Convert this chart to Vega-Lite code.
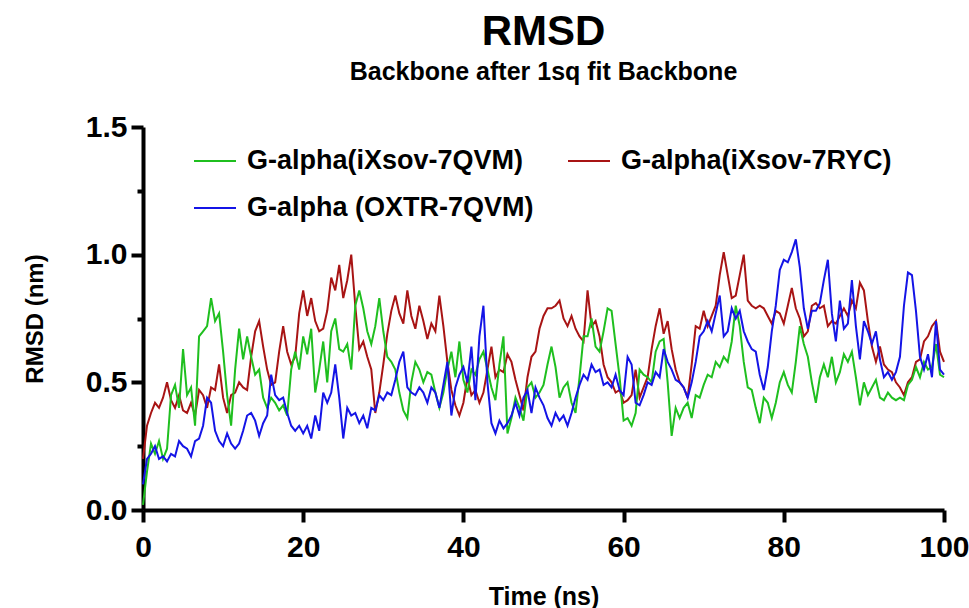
{
  "$schema": "https://vega.github.io/schema/vega-lite/v6.json",
  "width": 801,
  "height": 383,
  "autosize": {"type": "none"},
  "padding": {"left": 143, "top": 127, "right": 25, "bottom": 98},
  "background": "white",
  "config": {"font": "Liberation Sans", "view": {"stroke": null}},
  "title": {
    "text": "RMSD",
    "subtitle": "Backbone after 1sq fit Backbone",
    "fontSize": 42,
    "fontWeight": "bold",
    "color": "black",
    "subtitleFontSize": 25,
    "subtitleFontWeight": "bold",
    "subtitleColor": "black",
    "subtitlePadding": 6,
    "anchor": "middle",
    "frame": "group",
    "offset": 26
  },
  "data": {
    "values": [
      {"t":0,"g":0.02,"r":0.20,"b":0.10},
      {"t":0.5,"g":0.15,"r":0.33,"b":0.20},
      {"t":1,"g":0.26,"r":0.38,"b":0.22},
      {"t":1.5,"g":0.22,"r":0.42,"b":0.25},
      {"t":2,"g":0.27,"r":0.40,"b":0.20},
      {"t":2.5,"g":0.20,"r":0.44,"b":0.21},
      {"t":3,"g":0.24,"r":0.50,"b":0.19},
      {"t":3.5,"g":0.45,"r":0.43,"b":0.22},
      {"t":4,"g":0.49,"r":0.40,"b":0.21},
      {"t":4.5,"g":0.40,"r":0.45,"b":0.27},
      {"t":5,"g":0.63,"r":0.39,"b":0.25},
      {"t":5.5,"g":0.45,"r":0.38,"b":0.24},
      {"t":6,"g":0.48,"r":0.42,"b":0.21},
      {"t":6.5,"g":0.33,"r":0.37,"b":0.27},
      {"t":7,"g":0.68,"r":0.47,"b":0.28},
      {"t":7.5,"g":0.70,"r":0.45,"b":0.33},
      {"t":8,"g":0.72,"r":0.40,"b":0.44},
      {"t":8.5,"g":0.83,"r":0.48,"b":0.42},
      {"t":9,"g":0.74,"r":0.47,"b":0.31},
      {"t":9.5,"g":0.77,"r":0.57,"b":0.27},
      {"t":10,"g":0.62,"r":0.44,"b":0.25},
      {"t":10.5,"g":0.45,"r":0.38,"b":0.30},
      {"t":11,"g":0.33,"r":0.45,"b":0.26},
      {"t":11.5,"g":0.55,"r":0.46,"b":0.24},
      {"t":12,"g":0.71,"r":0.50,"b":0.26},
      {"t":12.5,"g":0.59,"r":0.48,"b":0.31},
      {"t":13,"g":0.68,"r":0.47,"b":0.37},
      {"t":13.5,"g":0.60,"r":0.60,"b":0.38},
      {"t":14,"g":0.53,"r":0.70,"b":0.35},
      {"t":14.5,"g":0.55,"r":0.74,"b":0.29},
      {"t":15,"g":0.44,"r":0.64,"b":0.34},
      {"t":15.5,"g":0.40,"r":0.55,"b":0.37},
      {"t":16,"g":0.44,"r":0.49,"b":0.53},
      {"t":16.5,"g":0.42,"r":0.50,"b":0.45},
      {"t":17,"g":0.39,"r":0.62,"b":0.43},
      {"t":17.5,"g":0.41,"r":0.72,"b":0.44},
      {"t":18,"g":0.37,"r":0.62,"b":0.38},
      {"t":18.5,"g":0.55,"r":0.57,"b":0.33},
      {"t":19,"g":0.62,"r":0.60,"b":0.31},
      {"t":19.5,"g":0.55,"r":0.77,"b":0.33},
      {"t":20,"g":0.68,"r":0.86,"b":0.30},
      {"t":20.5,"g":0.61,"r":0.76,"b":0.33},
      {"t":21,"g":0.71,"r":0.83,"b":0.28},
      {"t":21.5,"g":0.46,"r":0.74,"b":0.37},
      {"t":22,"g":0.55,"r":0.70,"b":0.31},
      {"t":22.5,"g":0.66,"r":0.71,"b":0.46},
      {"t":23,"g":0.50,"r":0.78,"b":0.42},
      {"t":23.5,"g":0.70,"r":0.91,"b":0.46},
      {"t":24,"g":0.75,"r":0.86,"b":0.57},
      {"t":24.5,"g":0.63,"r":0.96,"b":0.44},
      {"t":25,"g":0.62,"r":0.83,"b":0.28},
      {"t":25.5,"g":0.65,"r":0.90,"b":0.40},
      {"t":26,"g":0.55,"r":1.00,"b":0.37},
      {"t":26.5,"g":0.80,"r":0.80,"b":0.38},
      {"t":27,"g":0.86,"r":0.63,"b":0.34},
      {"t":27.5,"g":0.79,"r":0.66,"b":0.37},
      {"t":28,"g":0.70,"r":0.60,"b":0.32},
      {"t":28.5,"g":0.65,"r":0.55,"b":0.40},
      {"t":29,"g":0.72,"r":0.38,"b":0.39},
      {"t":29.5,"g":0.83,"r":0.46,"b":0.45},
      {"t":30,"g":0.70,"r":0.57,"b":0.43},
      {"t":30.5,"g":0.60,"r":0.69,"b":0.46},
      {"t":31,"g":0.58,"r":0.78,"b":0.45},
      {"t":31.5,"g":0.55,"r":0.84,"b":0.51},
      {"t":32,"g":0.46,"r":0.77,"b":0.58},
      {"t":32.5,"g":0.39,"r":0.73,"b":0.62},
      {"t":33,"g":0.36,"r":0.86,"b":0.48},
      {"t":33.5,"g":0.50,"r":0.76,"b":0.46},
      {"t":34,"g":0.58,"r":0.71,"b":0.45},
      {"t":34.5,"g":0.55,"r":0.80,"b":0.48},
      {"t":35,"g":0.50,"r":0.74,"b":0.46},
      {"t":35.5,"g":0.54,"r":0.67,"b":0.42},
      {"t":36,"g":0.53,"r":0.73,"b":0.48},
      {"t":36.5,"g":0.46,"r":0.70,"b":0.46},
      {"t":37,"g":0.40,"r":0.84,"b":0.40},
      {"t":37.5,"g":0.46,"r":0.72,"b":0.49},
      {"t":38,"g":0.55,"r":0.58,"b":0.58},
      {"t":38.5,"g":0.62,"r":0.47,"b":0.37},
      {"t":39,"g":0.52,"r":0.41,"b":0.48},
      {"t":39.5,"g":0.66,"r":0.37,"b":0.53},
      {"t":40,"g":0.51,"r":0.42,"b":0.56},
      {"t":40.5,"g":0.46,"r":0.52,"b":0.50},
      {"t":41,"g":0.55,"r":0.45,"b":0.64},
      {"t":41.5,"g":0.53,"r":0.47,"b":0.43},
      {"t":42,"g":0.59,"r":0.42,"b":0.68},
      {"t":42.5,"g":0.62,"r":0.46,"b":0.80},
      {"t":43,"g":0.55,"r":0.55,"b":0.50},
      {"t":43.5,"g":0.48,"r":0.64,"b":0.34},
      {"t":44,"g":0.43,"r":0.52,"b":0.30},
      {"t":44.5,"g":0.57,"r":0.55,"b":0.35},
      {"t":45,"g":0.68,"r":0.54,"b":0.32},
      {"t":45.5,"g":0.30,"r":0.61,"b":0.34},
      {"t":46,"g":0.36,"r":0.58,"b":0.37},
      {"t":46.5,"g":0.44,"r":0.51,"b":0.42},
      {"t":47,"g":0.40,"r":0.45,"b":0.37},
      {"t":47.5,"g":0.35,"r":0.39,"b":0.44},
      {"t":48,"g":0.48,"r":0.52,"b":0.47},
      {"t":48.5,"g":0.50,"r":0.60,"b":0.38},
      {"t":49,"g":0.44,"r":0.62,"b":0.48},
      {"t":49.5,"g":0.46,"r":0.71,"b":0.44},
      {"t":50,"g":0.49,"r":0.76,"b":0.41},
      {"t":50.5,"g":0.57,"r":0.79,"b":0.36},
      {"t":51,"g":0.64,"r":0.79,"b":0.33},
      {"t":51.5,"g":0.56,"r":0.80,"b":0.38},
      {"t":52,"g":0.44,"r":0.82,"b":0.35},
      {"t":52.5,"g":0.48,"r":0.75,"b":0.37},
      {"t":53,"g":0.50,"r":0.72,"b":0.33},
      {"t":53.5,"g":0.42,"r":0.76,"b":0.38},
      {"t":54,"g":0.38,"r":0.71,"b":0.44},
      {"t":54.5,"g":0.52,"r":0.68,"b":0.49},
      {"t":55,"g":0.68,"r":0.66,"b":0.53},
      {"t":55.5,"g":0.68,"r":0.86,"b":0.51},
      {"t":56,"g":0.75,"r":0.72,"b":0.57},
      {"t":56.5,"g":0.64,"r":0.74,"b":0.54},
      {"t":57,"g":0.62,"r":0.68,"b":0.55},
      {"t":57.5,"g":0.70,"r":0.57,"b":0.49},
      {"t":58,"g":0.79,"r":0.52,"b":0.50},
      {"t":58.5,"g":0.78,"r":0.50,"b":0.48},
      {"t":59,"g":0.65,"r":0.46,"b":0.53},
      {"t":59.5,"g":0.52,"r":0.47,"b":0.47},
      {"t":60,"g":0.35,"r":0.42,"b":0.45},
      {"t":60.5,"g":0.36,"r":0.43,"b":0.60},
      {"t":61,"g":0.33,"r":0.45,"b":0.57},
      {"t":61.5,"g":0.38,"r":0.55,"b":0.42},
      {"t":62,"g":0.55,"r":0.44,"b":0.41},
      {"t":62.5,"g":0.53,"r":0.48,"b":0.45},
      {"t":63,"g":0.52,"r":0.52,"b":0.50},
      {"t":63.5,"g":0.50,"r":0.63,"b":0.49},
      {"t":64,"g":0.62,"r":0.72,"b":0.54},
      {"t":64.5,"g":0.66,"r":0.79,"b":0.52},
      {"t":65,"g":0.67,"r":0.69,"b":0.63},
      {"t":65.5,"g":0.50,"r":0.74,"b":0.58},
      {"t":66,"g":0.29,"r":0.63,"b":0.55},
      {"t":66.5,"g":0.40,"r":0.55,"b":0.51},
      {"t":67,"g":0.36,"r":0.50,"b":0.50},
      {"t":67.5,"g":0.40,"r":0.48,"b":0.48},
      {"t":68,"g":0.42,"r":0.44,"b":0.44},
      {"t":68.5,"g":0.36,"r":0.57,"b":0.50},
      {"t":69,"g":0.45,"r":0.72,"b":0.58},
      {"t":69.5,"g":0.44,"r":0.71,"b":0.68},
      {"t":70,"g":0.49,"r":0.78,"b":0.70},
      {"t":70.5,"g":0.53,"r":0.72,"b":0.74},
      {"t":71,"g":0.52,"r":0.76,"b":0.70},
      {"t":71.5,"g":0.58,"r":0.80,"b":0.77},
      {"t":72,"g":0.56,"r":0.92,"b":0.84},
      {"t":72.5,"g":0.60,"r":1.01,"b":0.68},
      {"t":73,"g":0.58,"r":0.92,"b":0.70},
      {"t":73.5,"g":0.66,"r":0.83,"b":0.79},
      {"t":74,"g":0.80,"r":0.84,"b":0.75},
      {"t":74.5,"g":0.72,"r":0.92,"b":0.78},
      {"t":75,"g":0.58,"r":1.00,"b":0.70},
      {"t":75.5,"g":0.48,"r":0.82,"b":0.66},
      {"t":76,"g":0.47,"r":0.80,"b":0.63},
      {"t":76.5,"g":0.40,"r":0.79,"b":0.62},
      {"t":77,"g":0.34,"r":0.80,"b":0.53},
      {"t":77.5,"g":0.44,"r":0.79,"b":0.47},
      {"t":78,"g":0.42,"r":0.76,"b":0.56},
      {"t":78.5,"g":0.36,"r":0.73,"b":0.70},
      {"t":79,"g":0.42,"r":0.78,"b":0.80},
      {"t":79.5,"g":0.50,"r":0.77,"b":0.94},
      {"t":80,"g":0.54,"r":0.73,"b":0.98},
      {"t":80.5,"g":0.49,"r":0.80,"b":0.97},
      {"t":81,"g":0.46,"r":0.87,"b":1.01},
      {"t":81.5,"g":0.58,"r":0.79,"b":1.06},
      {"t":82,"g":0.72,"r":0.75,"b":0.95},
      {"t":82.5,"g":0.65,"r":0.68,"b":0.79},
      {"t":83,"g":0.60,"r":0.70,"b":0.71},
      {"t":83.5,"g":0.50,"r":0.80,"b":0.78},
      {"t":84,"g":0.42,"r":0.81,"b":0.78},
      {"t":84.5,"g":0.52,"r":0.79,"b":0.81},
      {"t":85,"g":0.57,"r":0.80,"b":0.90},
      {"t":85.5,"g":0.52,"r":0.72,"b":0.98},
      {"t":86,"g":0.60,"r":0.74,"b":0.77},
      {"t":86.5,"g":0.50,"r":0.73,"b":0.66},
      {"t":87,"g":0.54,"r":0.76,"b":0.82},
      {"t":87.5,"g":0.61,"r":0.79,"b":0.71},
      {"t":88,"g":0.58,"r":0.76,"b":0.73},
      {"t":88.5,"g":0.62,"r":0.82,"b":0.90},
      {"t":89,"g":0.52,"r":0.79,"b":0.72},
      {"t":89.5,"g":0.41,"r":0.89,"b":0.59},
      {"t":90,"g":0.50,"r":0.86,"b":0.74},
      {"t":90.5,"g":0.45,"r":0.74,"b":0.70},
      {"t":91,"g":0.48,"r":0.64,"b":0.65},
      {"t":91.5,"g":0.51,"r":0.58,"b":0.70},
      {"t":92,"g":0.44,"r":0.64,"b":0.59},
      {"t":92.5,"g":0.43,"r":0.57,"b":0.52},
      {"t":93,"g":0.46,"r":0.55,"b":0.54},
      {"t":93.5,"g":0.44,"r":0.54,"b":0.51},
      {"t":94,"g":0.43,"r":0.50,"b":0.54},
      {"t":94.5,"g":0.44,"r":0.48,"b":0.60},
      {"t":95,"g":0.43,"r":0.45,"b":0.80},
      {"t":95.5,"g":0.49,"r":0.50,"b":0.93},
      {"t":96,"g":0.51,"r":0.52,"b":0.92},
      {"t":96.5,"g":0.56,"r":0.58,"b":0.78},
      {"t":97,"g":0.52,"r":0.59,"b":0.60},
      {"t":97.5,"g":0.58,"r":0.66,"b":0.55},
      {"t":98,"g":0.55,"r":0.68,"b":0.61},
      {"t":98.5,"g":0.56,"r":0.72,"b":0.52},
      {"t":99,"g":0.65,"r":0.74,"b":0.74},
      {"t":99.5,"g":0.53,"r":0.62,"b":0.55},
      {"t":100,"g":0.52,"r":0.58,"b":0.53}
    ]
  },
  "transform": [{"fold": ["r", "g", "b"], "as": ["s", "v"]}],
  "mark": {"type": "line", "strokeWidth": 2},
  "encoding": {
    "x": {
      "field": "t",
      "type": "quantitative",
      "scale": {"domain": [0, 100], "nice": false},
      "axis": {
        "title": "Time (ns)",
        "values": [0, 20, 40, 60, 80, 100],
        "grid": false,
        "domainColor": "black",
        "domainWidth": 4,
        "tickColor": "black",
        "tickWidth": 4,
        "tickSize": 12,
        "labelFontSize": 30,
        "labelFontWeight": "bold",
        "labelColor": "black",
        "labelPadding": 10,
        "labelFlush": false,
        "labelOverlap": false,
        "titleFontSize": 25,
        "titleFontWeight": "bold",
        "titleColor": "black",
        "titlePadding": 22
      }
    },
    "y": {
      "field": "v",
      "type": "quantitative",
      "scale": {"domain": [0, 1.5], "nice": false},
      "axis": {
        "title": "RMSD (nm)",
        "values": [0, 0.25, 0.5, 0.75, 1, 1.25, 1.5],
        "labelExpr": "datum.value % 0.5 == 0 ? format(datum.value, '.1f') : ''",
        "grid": false,
        "domainColor": "black",
        "domainWidth": 4,
        "tickColor": "black",
        "tickWidth": 4,
        "tickSize": {"condition": {"test": "datum.value % 0.5 != 0", "value": 6}, "value": 12},
        "labelFontSize": 30,
        "labelFontWeight": "bold",
        "labelColor": "black",
        "labelPadding": 4,
        "labelFlush": false,
        "labelOverlap": false,
        "titleFontSize": 24,
        "titleFontWeight": "bold",
        "titleColor": "black",
        "titlePadding": 38
      }
    },
    "color": {
      "field": "s",
      "type": "nominal",
      "scale": {"domain": ["g", "b", "r"], "range": ["#1fbf1f", "#1414e6", "#a81414"]},
      "legend": {
        "title": null,
        "orient": "none",
        "legendX": 50,
        "legendY": 12,
        "columns": 2,
        "padding": 0,
        "symbolType": "stroke",
        "symbolSize": 1764,
        "symbolStrokeWidth": 2,
        "labelFontSize": 27,
        "labelFontWeight": "bold",
        "labelColor": "black",
        "labelOffset": 10,
        "labelLimit": 500,
        "columnPadding": 30,
        "rowPadding": 12,
        "labelExpr": "datum.label == 'g' ? 'G-alpha(iXsov-7QVM)' : datum.label == 'r' ? 'G-alpha(iXsov-7RYC)' : 'G-alpha (OXTR-7QVM)'"
      }
    }
  }
}
